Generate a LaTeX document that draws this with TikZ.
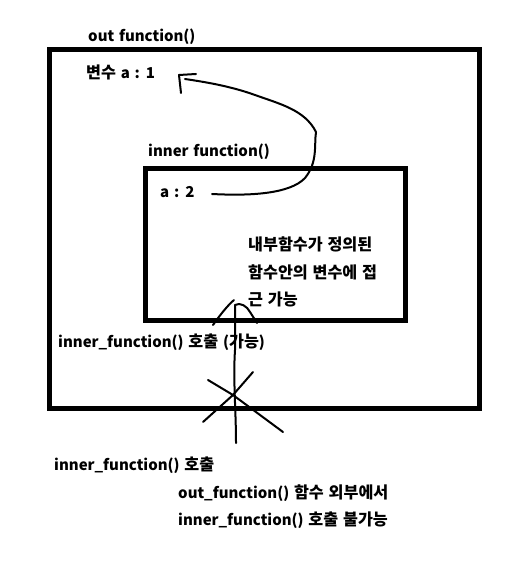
\documentclass[tikz,border=0pt]{standalone}
\usepackage{fontspec}
\setmainfont{Noto Sans CJK KR}[WordSpace=1.4]
\newfontfamily\kr{Noto Sans CJK KR}[Scale=1.08,WordSpace=1.3]
\begin{document}
\begin{tikzpicture}[x=1pt,y=-1pt,
  lbl/.style={anchor=base west,inner sep=0pt,font=\bfseries\fontsize{15}{18}\selectfont},
  box/.style={draw,line width=5pt},
  pen/.style={line width=2pt,line cap=round,line join=round}]
\useasboundingbox[fill=white] (0,0) rectangle (527,561);
% boxes
\draw[box] (49,50) rectangle (479,408);
\draw[box] (145,169) rectangle (405,320);
% labels
\node[lbl] (outf) at (88,42) {out function()};
\node[lbl] (va1) at (86,79) {{\kr 변수} a : 1};
\node[lbl] (innf) at (148,157) {inner function()};
\node[lbl] (a2) at (160,197) {a : 2};
\node[lbl] (n1) at (248,250) {\kr 내부함수가 정의된};
\node[lbl] (n2) at (248,278) {\kr 함수안의 변수에 접};
\node[lbl] (n3) at (248,305) {\kr 근 가능};
\node[lbl] (call1) at (58,347) {inner\_function() {\kr 호출} ({\kr 가능})};
\node[lbl] (call2) at (54,470) {inner\_function() {\kr 호출}};
\node[lbl] (m1) at (178,498) {out\_function() {\kr 함수 외부에서}};
\node[lbl] (m2) at (178,525) {inner\_function() {\kr 호출 불가능}};
% curved arrow from a:2 to 변수 a:1
\coordinate (cs) at (212,194);
\coordinate (ce) at (185,79);
\draw[pen] (cs) .. controls (250,196) and (290,194) .. (305,178)
  .. controls (318,162) and (314,145) .. (316,132)
  .. controls (305,110) and (280,104) .. (255,95)
  .. controls (230,86) and (205,82) .. (ce);
\coordinate (h1) at (181,93);
\coordinate (h2) at (179,75);
\coordinate (h3) at (196,74);
\draw[pen] (h1) -- (h2) -- (h3);
% vertical arrow up into inner box
\coordinate (vb) at (236,443);
\coordinate (vt) at (235,305);
\draw[pen] (vb) .. controls (236,410) and (233,380) .. (235,350) -- (vt);
\coordinate (al) at (213,325);
\coordinate (ar) at (257,323);
\draw[pen] (al) .. controls (220,315) and (228,305) .. (234,300);
\draw[pen] (vt) .. controls (240,302) and (247,306) .. (250,312) -- (ar);
% cross
\coordinate (x1a) at (208,380);
\coordinate (x1b) at (283,432);
\coordinate (x2a) at (253,372);
\coordinate (x2b) at (203,422);
\coordinate (xc) at (233,395);
\draw[pen] (x1a) -- (xc) -- (x1b);
\draw[pen] (x2a) -- (xc) -- (x2b);
\end{tikzpicture}
\end{document}
